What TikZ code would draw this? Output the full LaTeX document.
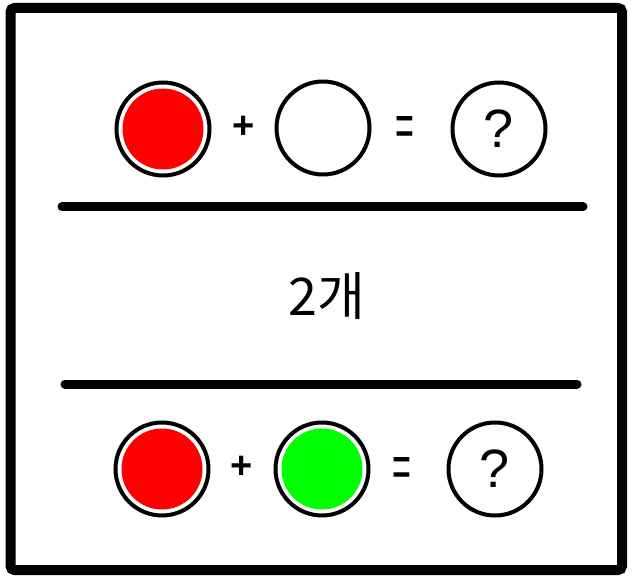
\documentclass[tikz,border=0pt]{standalone}
\usepackage{fontspec}
\setmainfont{Liberation Sans}
\newfontfamily\kofont{Noto Sans CJK KR}
\usetikzlibrary{positioning}
\definecolor{ballred}{HTML}{FF0000}
\definecolor{ballgreen}{HTML}{00FF00}

\begin{document}
\begin{tikzpicture}[
  x=1pt, y=-1pt,
  ball/.style={circle, draw, line width=4pt, minimum size=93pt, inner sep=0pt, font=\fontsize{54}{54}\selectfont},
  sign/.style={inner sep=0pt, font=\bfseries\fontsize{38}{38}\selectfont},
  eqsign/.style={inner sep=0pt, font=\fontsize{34}{34}\selectfont},
  rule/.style={line width=9pt, line cap=round},
]
\useasboundingbox (0,0) rectangle (634,585);

% Frame
\draw[line width=10pt, rounded corners=4pt] (10.5,8) rectangle (622,570);

% Top equation
\fill[ballred] (163,129) circle (40.5);
\node[ball] (red1) at (163,129) {};
\node[sign] (plus1) at (244,127) {+};
\node[ball] (empty1) at (323,128) {};
\node[eqsign] (eq1) at (405,132) {\scalebox{0.95}[1.8]{=}};
\node[ball] (ans1) at (499,129) {?};

% Separators and count
\draw[rule] (62,207) -- (583,207);
\node[font=\kofont\fontsize{52}{52}\selectfont] (count) at (327,296) {2개};
\draw[rule] (65,384) -- (577,384);

% Bottom equation
\fill[ballred] (162,469) circle (40.5);
\node[ball] (red2) at (162,469) {};
\node[sign] (plus2) at (242,467) {+};
\fill[ballgreen] (322,469) circle (40.5);
\node[ball] (green2) at (322,469) {};
\node[eqsign] (eq2) at (402,472) {\scalebox{0.95}[1.8]{=}};
\node[ball] (ans2) at (495,469) {?};

\end{tikzpicture}
\end{document}
